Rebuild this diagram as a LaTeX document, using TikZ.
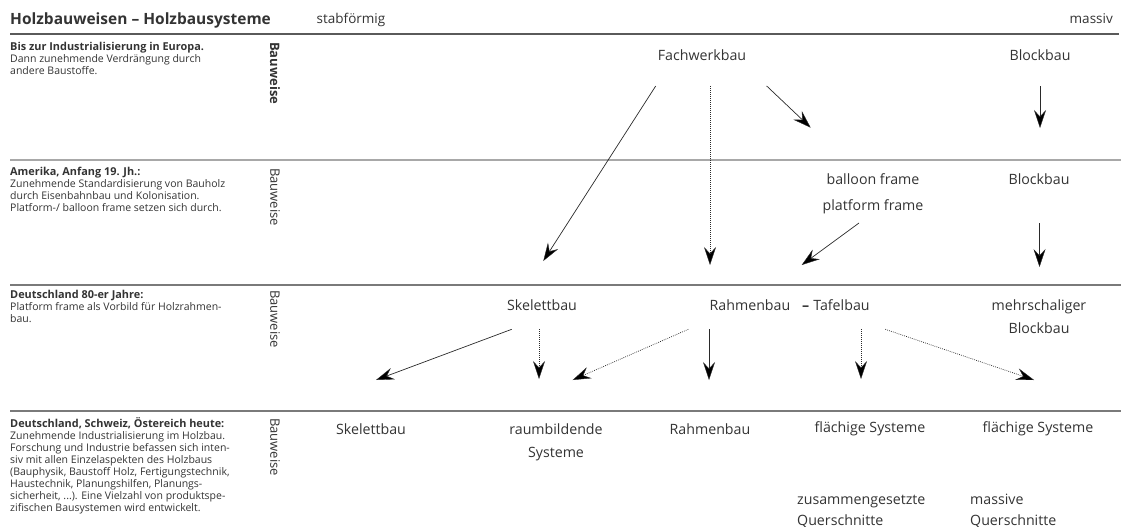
\documentclass[tikz,border=0pt]{standalone}
\usepackage{fontspec}
\setmainfont{Open Sans}
\usetikzlibrary{arrows.meta}
\definecolor{txt}{HTML}{333333}
\definecolor{ruledark}{HTML}{5A5A5A}
\definecolor{rulemid}{HTML}{7A7A7A}
\definecolor{rulelight}{HTML}{A8A8A8}
\definecolor{linec}{HTML}{2A2A2A}
\newcommand\dhd{\fontsize{10.9}{12.1}\selectfont\bfseries}
\begin{document}
\begin{tikzpicture}[x=1pt,y=-1pt,
  lbl/.style={font=\fontsize{14.2}{16}\selectfont, text=txt, inner sep=0pt, anchor=base},
  hdr/.style={font=\fontsize{13.5}{16}\selectfont, text=txt, inner sep=0pt, anchor=base},
  desc/.style={font=\fontsize{10.5}{12.1}\selectfont, text=txt, inner sep=0pt, anchor=north west, align=left},
  bw/.style={font=\fontsize{13}{15}\selectfont, text=txt, rotate=-90, inner sep=0pt, anchor=west},
  conn/.style={draw=linec, line width=0.7pt, -{Stealth[length=18pt,width=12pt,inset=6.5pt,fill=black,line width=0.4pt]}},
  dconn/.style={conn, dash pattern=on 0.8pt off 1.2pt},
  sep/.style={line width=1.1pt}]
\useasboundingbox (0,0) rectangle (1121,527);

% header
\node[hdr, anchor=base west, font=\fontsize{15.5}{18}\selectfont\bfseries] (title) at (10,24.5) {Holzbauweisen – Holzbausysteme};
\node[hdr] (stab) at (351,24) {stabförmig};
\node[hdr, anchor=base east] (massiv) at (1113,24) {massiv};

% rules
\draw[sep, draw=ruledark] (10,34) -- (1119,34);
\draw[sep, draw=rulelight] (10,160) -- (1121,160);
\draw[sep, draw=rulemid] (10,285) -- (1121,285);
\draw[sep, draw=rulemid] (10,411) -- (1121,411);

% left descriptions
\node[desc] (d1) at (10,42) {{\dhd Bis zur Industrialisierung in Europa.}\\Dann zunehmende Verdrängung durch\\andere Baustoffe.};
\node[desc] (d2) at (10,167) {{\dhd Amerika, Anfang 19. Jh.:}\\Zunehmende Standardisierung von Bauholz\\durch Eisenbahnbau und Kolonisation.\\Platform-/ balloon frame setzen sich durch.};
\node[desc] (d3) at (10,290) {{\dhd Deutschland 80-er Jahre:}\\Platform frame als Vorbild für Holzrahmen-\\bau.};
\node[desc] (d4) at (10,417) {{\dhd Deutschland, Schweiz, Östereich heute:}\\Zunehmende Industrialisierung im Holzbau.\\Forschung und Industrie befassen sich inten-\\siv mit allen Einzelaspekten des Holzbaus\\(Bauphysik, Baustoff Holz, Fertigungstechnik,\\Haustechnik, Planungshilfen, Planungs-\\sicherheit, ...). Eine Vielzahl von produktspe-\\zifischen Bausystemen wird entwickelt.};

% Bauweise
\node[bw, font=\fontsize{13}{15}\selectfont\bfseries] (bw1) at (275,42) {Bauweise};
\node[bw] (bw2) at (275,168) {Bauweise};
\node[bw] (bw3) at (275,290) {Bauweise};
\node[bw] (bw4) at (275,418) {Bauweise};

% row 1
\node[lbl] (fach) at (702,60) {Fachwerkbau};
\node[lbl] (block1) at (1040,60) {Blockbau};
% row 2
\node[lbl] (balloon) at (873,184) {balloon frame};
\node[lbl] (platform) at (873,210) {platform frame};
\node[lbl] (block2) at (1039,184) {Blockbau};
% row 3
\node[lbl] (skel3) at (542,310) {Skelettbau};
\node[lbl] (rahmen3) at (750,310) {Rahmenbau};
\node[lbl, anchor=base west] (tafel) at (802,310) {{\bfseries –}\hspace{4pt}Tafelbau};
\node[lbl] (mehr) at (1039,310) {mehrschaliger};
\node[lbl] (block3) at (1039,333) {Blockbau};
% row 4
\node[lbl] (skel4) at (371,434) {Skelettbau};
\node[lbl] (raum) at (556,434) {raumbildende};
\node[lbl] (raum2) at (556,457) {Systeme};
\node[lbl] (rahmen4) at (710,434) {Rahmenbau};
\node[lbl] (flach1) at (870,432) {flächige Systeme};
\node[lbl] (flach2) at (1038,432) {flächige Systeme};
\node[lbl, anchor=base west] (zus) at (797,504) {zusammengesetzte};
\node[lbl, anchor=base west] (zusq) at (797,525) {Querschnitte};
\node[lbl, anchor=base west] (mas) at (970,504) {massive};
\node[lbl, anchor=base west] (masq) at (970,525) {Querschnitte};

% connector end points
\coordinate (a1s) at (655.7,86);  \coordinate (a1e) at (543.3,261);
\coordinate (a2s) at (710,86);    \coordinate (a2e) at (710,265);
\coordinate (a3s) at (766.7,86);  \coordinate (a3e) at (810.7,127.7);
\coordinate (a4s) at (1040,86);   \coordinate (a4e) at (1040,128);
\coordinate (a5s) at (859,223);   \coordinate (a5e) at (801.7,265);
\coordinate (a6s) at (1039.5,223);\coordinate (a6e) at (1039.5,267);
\coordinate (a7s) at (511.7,329.3);\coordinate (a7e) at (376,380);
\coordinate (a8s) at (539,329);   \coordinate (a8e) at (539,379);
\coordinate (a9s) at (688.3,329.3);\coordinate (a9e) at (572.7,380);
\coordinate (a10s) at (709,329);  \coordinate (a10e) at (709,380);
\coordinate (a11s) at (861,329);  \coordinate (a11e) at (861,379);
\coordinate (a12s) at (885.3,329.3);\coordinate (a12e) at (1034,380);

\draw[conn] (a1s) -- (a1e);
\draw[dconn] (a2s) -- (a2e);
\draw[conn] (a3s) -- (a3e);
\draw[conn] (a4s) -- (a4e);
\draw[conn] (a5s) -- (a5e);
\draw[conn] (a6s) -- (a6e);
\draw[conn] (a7s) -- (a7e);
\draw[dconn] (a8s) -- (a8e);
\draw[dconn] (a9s) -- (a9e);
\draw[conn] (a10s) -- (a10e);
\draw[dconn] (a11s) -- (a11e);
\draw[dconn] (a12s) -- (a12e);
\end{tikzpicture}
\end{document}
